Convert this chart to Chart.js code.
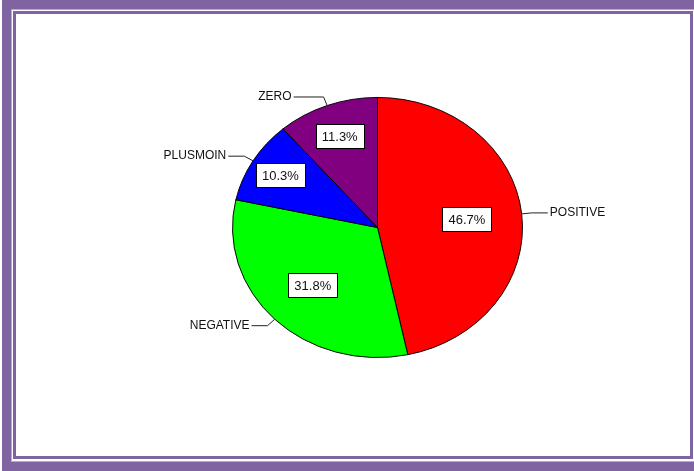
<!DOCTYPE html>
<html>
<head>
<meta charset="utf-8">
<script src="https://cdn.jsdelivr.net/npm/chart.js@4"></script>
<style>
  body { margin: 0; background: #fff; width: 694px; height: 471px; overflow: hidden; position: relative; }
  .outer { position: absolute; left: 2px; top: 0; width: 720px; height: 471px; box-sizing: border-box; border: 9px solid #8064a2; box-shadow: inset 0 0 0 1px #b9a6d1; }
  .inner { position: absolute; left: 13px; top: 11px; width: 680px; height: 448px; box-sizing: border-box; border: 3px solid #8064a2; }
  #chart { position: absolute; left: 0; top: 0; }
</style>
</head>
<body>
<div class="outer"></div>
<div class="inner"></div>
<canvas id="chart" width="694" height="471"></canvas>
<script>
const categories = ["POSITIVE", "NEGATIVE", "PLUSMOIN", "ZERO"];
const shares = [46.7, 31.8, 10.3, 11.3];
const sliceColors = ["#ff0000", "#00ff00", "#0000ff", "#800080"];

// where the % boxes sit, as a fraction of the radius along each slice's middle
const boxRadius = [0.62, 0.63, 0.78, 0.75];
const squash = 0.897; // the pie is drawn a bit flatter than a circle

function sliceMid(el) {
    return (el.startAngle + el.endAngle) / 2;
}

const ellipsePie = {
    id: 'ellipsePie',
    beforeDatasetsDraw(chart) {
        const el = chart.getDatasetMeta(0).data[0];
        const ctx = chart.ctx;
        ctx.save();
        ctx.translate(el.x, el.y);
        ctx.scale(1, squash);
        ctx.translate(-el.x, -el.y);
    },
    afterDatasetsDraw(chart) {
        chart.ctx.restore();
    },
    afterDraw(chart) {
        const ctx = chart.ctx;
        const arcs = chart.getDatasetMeta(0).data;
        ctx.save();
        ctx.textBaseline = 'middle';
        arcs.forEach(function (el, i) {
            const a = sliceMid(el);
            const r = el.outerRadius;
            const cos = Math.cos(a), sin = Math.sin(a);

            // percentage box
            ctx.font = '13px "Liberation Sans", Arial, sans-serif';
            const txt = shares[i].toFixed(1) + '%';
            const bx = el.x + cos * r * boxRadius[i];
            const by = el.y + sin * r * boxRadius[i] * squash;
            const w = ctx.measureText(txt).width + 12;
            const h = 24;
            ctx.fillStyle = '#fff';
            ctx.fillRect(Math.round(bx - w / 2) + 0.5, Math.round(by - h / 2) + 0.5, Math.round(w), h);
            ctx.strokeStyle = '#000';
            ctx.lineWidth = 1;
            ctx.strokeRect(Math.round(bx - w / 2) + 0.5, Math.round(by - h / 2) + 0.5, Math.round(w), h);
            ctx.fillStyle = '#111';
            ctx.textAlign = 'center';
            ctx.fillText(txt, bx, by + 1);

            // leader line and category name
            const ex = el.x + cos * r, ey = el.y + sin * r * squash;
            const kx = el.x + cos * r * 1.07, ky = el.y + sin * r * 1.07 * squash;
            const right = cos >= 0;
            const len = i === 3 ? 30 : 16;
            const hx = right ? kx + len : kx - len;
            ctx.strokeStyle = '#222';
            ctx.beginPath();
            ctx.moveTo(ex, ey);
            ctx.lineTo(kx, ky);
            ctx.lineTo(hx, ky);
            ctx.stroke();
            ctx.font = '12px "Liberation Sans", Arial, sans-serif';
            ctx.fillStyle = '#111';
            ctx.textAlign = right ? 'left' : 'right';
            ctx.fillText(categories[i], right ? hx + 2 : hx - 2, ky);
        });
        ctx.restore();
    }
};

new Chart(document.getElementById('chart'), {
    type: 'pie',
    data: {
        labels: categories,
        datasets: [{
            data: shares,
            backgroundColor: sliceColors,
            borderColor: '#000',
            borderWidth: 1
        }]
    },
    options: {
        responsive: false,
        animation: false,
        layout: { padding: { left: 232, right: 171, top: 82, bottom: 98 } },
        plugins: { legend: { display: false }, tooltip: { enabled: false } }
    },
    plugins: [ellipsePie]
});
</script>
</body>
</html>
